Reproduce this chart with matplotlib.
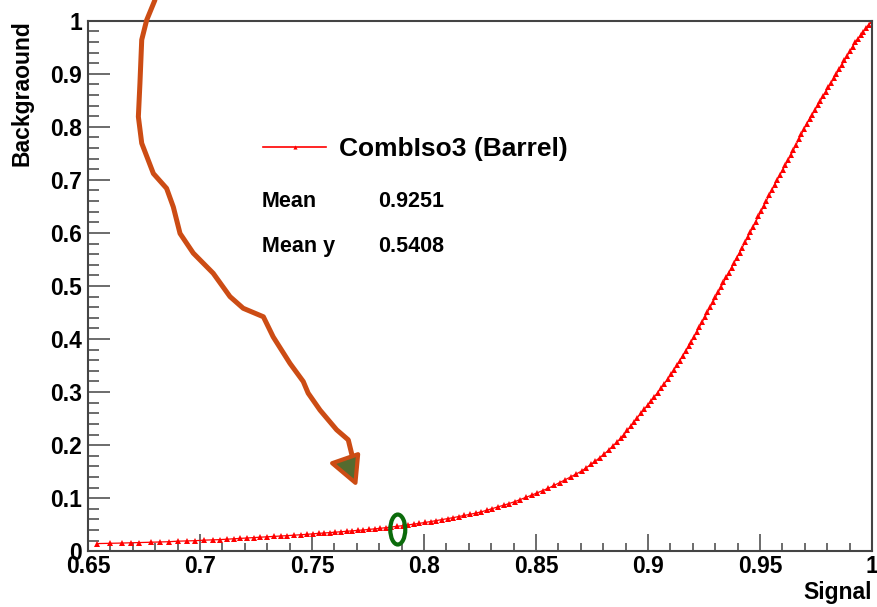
import matplotlib
matplotlib.use("Agg")
import matplotlib.pyplot as plt
from matplotlib.lines import Line2D
from matplotlib.patches import Ellipse, Polygon
from matplotlib.ticker import MultipleLocator, FormatStrFormatter


# =========================
# Données
# =========================

# Efficacité signal (axe x) et background (axe y) de la courbe ROC
SIGNAL = [
    0.6540, 0.6600, 0.6650, 0.6690, 0.6730, 0.6780, 0.6820, 0.6860, 0.6900, 0.6940,
    0.6980, 0.7020, 0.7060, 0.7090, 0.7120, 0.7150, 0.7180, 0.7210, 0.7240, 0.7270,
    0.7300, 0.7330, 0.7360, 0.7390, 0.7420, 0.7450, 0.7480, 0.7505, 0.7530, 0.7555,
    0.7580, 0.7605, 0.7630, 0.7655, 0.7680, 0.7705, 0.7730, 0.7755, 0.7780, 0.7805,
    0.7830, 0.7855, 0.7880, 0.7905, 0.7930, 0.7955, 0.7980, 0.8005,
    0.8030, 0.8055, 0.8080, 0.8105, 0.8130, 0.8155, 0.8180, 0.8205, 0.8230, 0.8255,
    0.8280, 0.8305, 0.8330, 0.8355, 0.8380, 0.8405, 0.8430, 0.8455, 0.8480, 0.8505,
    0.8530, 0.8555, 0.8580, 0.8605, 0.8630, 0.8655, 0.8680, 0.8705, 0.8725, 0.8745,
    0.8765, 0.8785, 0.8805, 0.8825, 0.8845, 0.8862, 0.8878, 0.8893, 0.8908, 0.8923,
    0.8938, 0.8953, 0.8968, 0.8983, 0.8998, 0.9013, 0.9028, 0.9043, 0.9058, 0.9073,
    0.9088, 0.9103, 0.9116, 0.9129, 0.9142, 0.9155, 0.9168, 0.9181, 0.9193, 0.9205,
    0.9217, 0.9229, 0.9241, 0.9253, 0.9265, 0.9277, 0.9289, 0.9301, 0.9313, 0.9325,
    0.9337, 0.9349, 0.9361, 0.9373, 0.9385, 0.9397, 0.9409, 0.9421, 0.9433, 0.9445,
    0.9457, 0.9469, 0.9481, 0.9493, 0.9505, 0.9517, 0.9529, 0.9541, 0.9553, 0.9565,
    0.9577, 0.9589, 0.9601, 0.9613, 0.9625, 0.9637, 0.9649, 0.9661, 0.9673, 0.9685,
    0.9697, 0.9709, 0.9721, 0.9733, 0.9745, 0.9757, 0.9769, 0.9781, 0.9793, 0.9805,
    0.9817, 0.9829, 0.9841, 0.9853, 0.9865, 0.9877, 0.9889, 0.9901, 0.9913, 0.9925,
    0.9937, 0.9949, 0.9961, 0.9973, 0.9985, 1.0000,
]

BACKGROUND = [
    0.0145, 0.0150, 0.0155, 0.0160, 0.0165, 0.0170, 0.0175, 0.0180, 0.0190, 0.0195,
    0.0200, 0.0210, 0.0215, 0.0220, 0.0228, 0.0235, 0.0242, 0.0250, 0.0258, 0.0265,
    0.0272, 0.0280, 0.0288, 0.0295, 0.0303, 0.0310, 0.0320, 0.0330, 0.0337, 0.0345,
    0.0352, 0.0360, 0.0368, 0.0377, 0.0385, 0.0393, 0.0402, 0.0412, 0.0422, 0.0433,
    0.0445, 0.0457, 0.0470, 0.0483, 0.0497, 0.0512, 0.0527, 0.0543,
    0.0560, 0.0578, 0.0596, 0.0614, 0.0634, 0.0654, 0.0675, 0.0696, 0.0718, 0.0742,
    0.0773, 0.0805, 0.0836, 0.0868, 0.0900, 0.0935, 0.0975, 0.1015, 0.1057, 0.1100,
    0.1143, 0.1188, 0.1240, 0.1293, 0.1347, 0.1402, 0.1458, 0.1515, 0.1575, 0.1637,
    0.1700, 0.1765, 0.1835, 0.1910, 0.1990, 0.2060, 0.2130, 0.2200, 0.2280, 0.2360,
    0.2440, 0.2520, 0.2600, 0.2675, 0.2752, 0.2830, 0.2910, 0.2990, 0.3075, 0.3160,
    0.3245, 0.3335, 0.3420, 0.3507, 0.3595, 0.3683, 0.3772, 0.3862, 0.3950, 0.4040,
    0.4130, 0.4220, 0.4314, 0.4408, 0.4502, 0.4596, 0.4690, 0.4784, 0.4878, 0.4972,
    0.5066, 0.5160, 0.5254, 0.5348, 0.5442, 0.5536, 0.5630, 0.5724, 0.5821, 0.5918,
    0.6015, 0.6112, 0.6210, 0.6310, 0.6410, 0.6510, 0.6610, 0.6710, 0.6810, 0.6910,
    0.7002, 0.7094, 0.7186, 0.7278, 0.7370, 0.7462, 0.7562, 0.7662, 0.7762, 0.7862,
    0.7962, 0.8062, 0.8147, 0.8232, 0.8317, 0.8402, 0.8487, 0.8572, 0.8657, 0.8742,
    0.8827, 0.8912, 0.8997, 0.9082, 0.9167, 0.9252, 0.9337, 0.9422, 0.9507, 0.9592,
    0.9660, 0.9726, 0.9792, 0.9858, 0.9924, 1.0000,
]

SERIES_LABEL = "CombIso3 (Barrel)"
STATS = [("Mean", "0.9251"), ("Mean y", "0.5408")]

# Annotation à main levée (flèche orange) et point de travail entouré
ARROW_X = [0.6799, 0.6762, 0.6740, 0.6732, 0.6725, 0.6740, 0.6792, 0.6851, 0.6881,
           0.6911, 0.6970, 0.7059, 0.7134, 0.7193, 0.7283, 0.7327, 0.7402, 0.7461,
           0.7483, 0.7536, 0.7610, 0.7662, 0.7684]
ARROW_Y = [1.039, 1.001, 0.964, 0.882, 0.819, 0.769, 0.712, 0.684, 0.649,
           0.599, 0.562, 0.524, 0.480, 0.458, 0.442, 0.404, 0.354, 0.320,
           0.298, 0.266, 0.229, 0.210, 0.172]
ARROW_HEAD = [(0.7590, 0.166), (0.7706, 0.183), (0.7694, 0.129)]
WORKING_POINT = (0.7883, 0.041)


# =========================
# Style
# =========================

plt.rcParams["font.family"] = ["Liberation Sans", "DejaVu Sans"]
plt.rcParams["font.weight"] = "bold"

FRAME = "#444444"
ORANGE = "#CC4C14"

fig = plt.figure(figsize=(8.77, 6.07), dpi=100)
ax = fig.add_axes([0.1003, 0.0918, 0.8940, 0.8741])

# Courbe ROC : fine ligne rouge + marqueurs triangulaires
ax.plot(SIGNAL, BACKGROUND, linestyle="-", linewidth=0.9, marker="^",
        markersize=3.8, color="red", markeredgewidth=0)

# Flèche orange dessinée à la main
ax.plot(ARROW_X, ARROW_Y, color=ORANGE, linewidth=3.6,
        solid_joinstyle="round", solid_capstyle="round", clip_on=False, zorder=4)
ax.add_patch(Polygon(ARROW_HEAD, closed=True, facecolor="#556B2F",
                     edgecolor=ORANGE, linewidth=3, joinstyle="round", zorder=5))

# Ellipse verte autour du point de travail
ax.add_patch(Ellipse(WORKING_POINT, width=0.0067, height=0.0565, fill=False,
                     edgecolor="#0B6B0B", linewidth=3.0, zorder=5))

# =========================
# Axes
# =========================

ax.set_xlim(0.65, 1.0)
ax.set_ylim(0.0, 1.0)

ax.xaxis.set_major_locator(MultipleLocator(0.05))
ax.xaxis.set_minor_locator(MultipleLocator(0.01))
ax.yaxis.set_major_locator(MultipleLocator(0.1))
ax.yaxis.set_minor_locator(MultipleLocator(0.02))
ax.xaxis.set_major_formatter(FormatStrFormatter("%g"))
ax.yaxis.set_major_formatter(FormatStrFormatter("%g"))

ax.tick_params(axis="x", which="major", direction="in", length=12.2, width=1.1,
               color=FRAME, labelsize=16.5, pad=3)
ax.tick_params(axis="x", which="minor", direction="in", length=5.8, width=1.1,
               color=FRAME)
ax.tick_params(axis="y", which="major", direction="in", length=15.8, width=1.1,
               color=FRAME, labelsize=16.5, pad=4.3)
ax.tick_params(axis="y", which="minor", direction="in", length=7.9, width=1.1,
               color=FRAME)

for spine in ax.spines.values():
    spine.set_color(FRAME)
    spine.set_linewidth(1.5)

ax.set_xlabel("Signal", fontsize=16.5, fontweight="bold", loc="right")
ax.xaxis.set_label_coords(1.0, -0.056)
ax.set_ylabel("Backgraound", fontsize=16.5, fontweight="bold", loc="top")
ax.yaxis.set_label_coords(-0.070, 1.0)

# =========================
# Légende et statistiques
# =========================

handle = Line2D([], [], color="red", linewidth=1.2, marker="^", markersize=3,
                markeredgewidth=0)
ax.legend([handle], [SERIES_LABEL], loc="center left",
          bbox_to_anchor=(0.2232, 0.758), frameon=False, borderpad=0,
          borderaxespad=0, handlelength=2.4, handletextpad=0.5,
          prop={"size": 19, "weight": "bold"})

for (name, value), y in zip(STATS, [0.649, 0.564]):
    ax.text(0.222, y, name, transform=ax.transAxes, fontsize=15.5,
            fontweight="bold", va="baseline", ha="left")
    ax.text(0.454, y, value, transform=ax.transAxes, fontsize=15.5,
            fontweight="bold", va="baseline", ha="right")

fig.savefig("out.png", dpi=100)
